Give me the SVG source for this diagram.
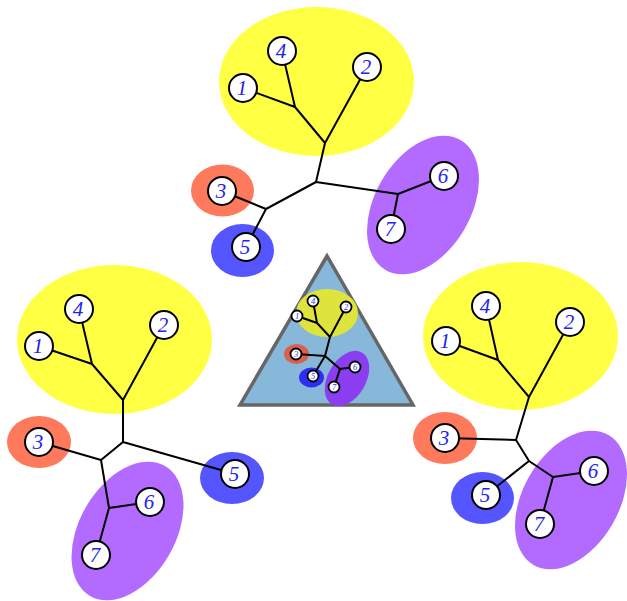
<svg xmlns="http://www.w3.org/2000/svg" width="627" height="601" viewBox="0 0 627 601">
<style>
.y{fill:#ffff44}.r{fill:#ff7a5c}.b{fill:#5555ff}.p{fill:#b36bff}
.e{stroke:#000;stroke-width:2;fill:none;stroke-linejoin:round}
.em{stroke:#000;stroke-width:2;fill:none}
.n circle{fill:#fff;stroke:#000;stroke-width:2}
.n text{font-family:"Liberation Serif",serif;font-style:italic;font-size:21px;fill:#2222ee;text-anchor:middle}
.m circle{fill:#fff;stroke:#000;stroke-width:1.8}
.m text{font-family:"Liberation Serif",serif;font-style:italic;font-size:8.5px;fill:#3333ee;text-anchor:middle}
</style>
<g id="top-groups">
<ellipse class="y" cx="316.5" cy="81.5" rx="97.5" ry="74.5"/>
<ellipse class="r" cx="222.5" cy="190.5" rx="31.5" ry="26"/>
<ellipse class="b" cx="242.5" cy="250.5" rx="31.5" ry="26.5"/>
<ellipse class="p" cx="0" cy="0" rx="75" ry="48" transform="translate(423 205) rotate(-60)"/>
</g>
<g id="left-groups">
<ellipse class="y" cx="114.5" cy="339.5" rx="97.5" ry="74.5"/>
<ellipse class="r" cx="39" cy="442" rx="32" ry="26"/>
<ellipse class="b" cx="232" cy="478" rx="32" ry="26"/>
<ellipse class="p" cx="0" cy="0" rx="75" ry="48" transform="translate(127.5 531) rotate(-60)"/>
</g>
<g id="right-groups">
<ellipse class="y" cx="520.5" cy="336" rx="97.5" ry="74"/>
<ellipse class="r" cx="445" cy="438" rx="32" ry="26"/>
<ellipse class="b" cx="482.5" cy="498" rx="31.5" ry="26"/>
<ellipse class="p" cx="0" cy="0" rx="75" ry="48" transform="translate(571 500) rotate(-60)"/>
</g>
<g id="center">
<polygon points="327,256 240,405 413,405" fill="#87b8da" stroke="#666" stroke-width="3.5" stroke-linejoin="miter"/>
<ellipse cx="327" cy="313" rx="31" ry="24" fill="#dfe43c"/>
<ellipse cx="296.5" cy="354" rx="12.5" ry="10" fill="#d8604c"/>
<ellipse cx="311.5" cy="377.5" rx="12.5" ry="10" fill="#2e2ef0"/>
<ellipse cx="0" cy="0" rx="30" ry="19" fill="#8a3ef0" transform="translate(347 378.5) rotate(-60)"/>
</g>
<g id="connectors">
<path class="e" d="M243,88 L295,107 L282,51 M295,107 L325,143 L367,67 M325,143 L316,182 L266,209 L222,191 M266,209 L246,247 M316,182 L398,194 L444,176 M398,194 L391,229"/>
<path class="e" d="M39,346 L92,364 L79,309 M92,364 L123,400 L164,325 M123,400 L123,442 L235,474 M123,442 L101,460 L39,442 M101,460 L109,508 L150,502 M109,508 L96,555"/>
<path class="e" d="M446,341 L498,360 L486,306 M498,360 L529,397 L570,322 M529,397 L516,440 L445,438 M516,440 L529,461 L486,495 M529,461 L553,477 L594,471 M553,477 L540,524"/>
<path class="em" d="M297,316 L317,323 L313,301 M317,323 L330,337 L346,307 M330,337 L325,356 L296,354 M325,356 L313,376 M325,356 L340,369 L355,367 M340,369 L334,387"/>
</g>
<g id="top-nodes" class="n">
<g id="t1"><circle cx="243" cy="88" r="14"/><text x="242" y="95">1</text></g>
<g id="t2"><circle cx="367" cy="67" r="14"/><text x="366" y="74">2</text></g>
<g id="t3"><circle cx="222" cy="191" r="14"/><text x="221" y="198">3</text></g>
<g id="t4"><circle cx="282" cy="51" r="14"/><text x="281" y="58">4</text></g>
<g id="t5"><circle cx="246" cy="247" r="14"/><text x="245" y="254">5</text></g>
<g id="t6"><circle cx="444" cy="176" r="14"/><text x="443" y="183">6</text></g>
<g id="t7"><circle cx="391" cy="229" r="14"/><text x="390" y="236">7</text></g>
</g>
<g id="left-nodes" class="n">
<g id="l1"><circle cx="39" cy="346" r="14"/><text x="38" y="353">1</text></g>
<g id="l2"><circle cx="164" cy="325" r="14"/><text x="163" y="332">2</text></g>
<g id="l3"><circle cx="39" cy="442" r="14"/><text x="38" y="449">3</text></g>
<g id="l4"><circle cx="79" cy="309" r="14"/><text x="78" y="316">4</text></g>
<g id="l5"><circle cx="235" cy="474" r="14"/><text x="234" y="481">5</text></g>
<g id="l6"><circle cx="150" cy="502" r="14"/><text x="149" y="509">6</text></g>
<g id="l7"><circle cx="96" cy="555" r="14"/><text x="95" y="562">7</text></g>
</g>
<g id="right-nodes" class="n">
<g id="r1"><circle cx="446" cy="341" r="14"/><text x="445" y="348">1</text></g>
<g id="r2"><circle cx="570" cy="322" r="14"/><text x="569" y="329">2</text></g>
<g id="r3"><circle cx="445" cy="438" r="14"/><text x="444" y="445">3</text></g>
<g id="r4"><circle cx="486" cy="306" r="14"/><text x="485" y="313">4</text></g>
<g id="r5"><circle cx="486" cy="495" r="14"/><text x="485" y="502">5</text></g>
<g id="r6"><circle cx="594" cy="471" r="14"/><text x="593" y="478">6</text></g>
<g id="r7"><circle cx="540" cy="524" r="14"/><text x="539" y="531">7</text></g>
</g>
<g id="mini-nodes" class="m">
<g id="m1"><circle cx="297" cy="316" r="5.5"/><text x="297" y="319">1</text></g>
<g id="m2"><circle cx="346" cy="307" r="5.5"/><text x="346" y="310">2</text></g>
<g id="m3"><circle cx="296" cy="354" r="5.5"/><text x="296" y="357">3</text></g>
<g id="m4"><circle cx="313" cy="301" r="5.5"/><text x="313" y="304">4</text></g>
<g id="m5"><circle cx="313" cy="376" r="5.5"/><text x="313" y="379">5</text></g>
<g id="m6"><circle cx="355" cy="367" r="5.5"/><text x="355" y="370">6</text></g>
<g id="m7"><circle cx="334" cy="387" r="5.5"/><text x="334" y="390">7</text></g>
</g>
</svg>
